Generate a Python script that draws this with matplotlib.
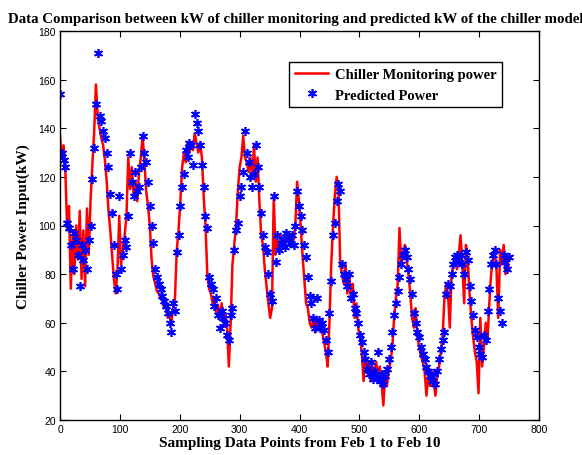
import numpy as np
import matplotlib
matplotlib.use("Agg")
import matplotlib.pyplot as plt

# Chiller monitoring power (kW), one value every 3 sampling points
monitoring_kw = [
    137, 128, 133, 122, 98, 108, 74, 96, 80, 100,
    86, 106, 78, 98, 75, 107, 88, 110, 125, 138,
    158, 145, 140, 136, 133, 127, 118, 106, 98, 88,
    78, 72, 82, 104, 84, 90, 96, 104, 128, 115,
    124, 112, 118, 110, 122, 128, 137, 126, 114, 108,
    100, 86, 79, 76, 73, 72, 70, 69, 66, 67,
    62, 63, 60, 66, 70, 90, 98, 110, 124, 130,
    126, 134, 130, 133, 131, 138, 134, 130, 134, 128,
    112, 100, 80, 74, 72, 68, 70, 64, 67, 62,
    68, 60, 64, 58, 42, 60, 84, 92, 100, 114,
    124, 128, 137, 128, 126, 122, 128, 120, 133, 118,
    128, 110, 96, 92, 82, 75, 68, 62, 66, 112,
    88, 94, 90, 96, 92, 95, 93, 97, 92, 96,
    94, 100, 118, 110, 100, 88, 78, 68, 66, 60,
    58, 62, 56, 62, 58, 60, 56, 52, 48, 42,
    60, 84, 100, 112, 120, 116, 84, 80, 76, 84,
    72, 80, 70, 76, 62, 68, 58, 54, 48, 36,
    46, 40, 44, 36, 42, 38, 44, 38, 42, 36,
    26, 38, 34, 40, 44, 50, 62, 70, 76, 99,
    84, 88, 92, 86, 80, 72, 62, 58, 66, 54,
    50, 46, 44, 40, 30, 38, 34, 40, 36, 30,
    38, 42, 48, 54, 70, 76, 72, 58, 80, 84,
    86, 82, 88, 96, 84, 68, 92, 86, 72, 62,
    54, 48, 44, 31, 62, 42, 50, 60, 52, 68,
    80, 86, 90, 82, 62, 90, 84, 92, 80, 86,
    82,
]

# Predicted power of the chiller model (kW), same sampling points
predicted_kw = [
    154, 130, 127, 124, 101, 99, 92, 82, 97, 94,
    88, 75, 92, 86, 90, 82, 94, 100, 119, 132,
    150, 171, 145, 143, 139, 136, 130, 124, 113, 105,
    92, 80, 74, 112, 82, 88, 94, 91, 104, 130,
    118, 112, 122, 114, 116, 124, 137, 130, 126, 118,
    108, 100, 93, 82, 79, 76, 74, 71, 69, 67,
    64, 60, 56, 68, 65, 89, 96, 108, 116, 121,
    131, 128, 134, 133, 125, 146, 142, 139, 133, 125,
    116, 104, 99, 79, 76, 74, 67, 70, 63, 58,
    65, 62, 60, 55, 53, 63, 66, 90, 98, 101,
    112, 116, 122, 139, 130, 126, 120, 116, 121, 133,
    124, 116, 105, 96, 91, 89, 80, 72, 69, 112,
    85, 96, 90, 93, 94, 91, 97, 95, 93, 96,
    92, 100, 114, 108, 104, 98, 92, 87, 79, 71,
    68, 62, 58, 70, 61, 58, 60, 57, 53, 48,
    64, 77, 96, 101, 110, 117, 114, 84, 80, 78,
    75, 80, 70, 72, 66, 64, 60, 55, 52, 48,
    45, 41, 39, 44, 37, 40, 38, 48, 36, 39,
    35, 38, 41, 45, 50, 56, 63, 68, 73, 79,
    84, 88, 90, 87, 82, 78, 72, 64, 60, 56,
    54, 50, 47, 45, 42, 40, 38, 36, 39, 35,
    40, 45, 49, 53, 56, 72, 76, 75, 80, 84,
    87, 88, 85, 88, 84, 80, 89, 86, 75, 69,
    63, 57, 54, 50, 47, 46, 55, 53, 65, 74,
    84, 88, 90, 84, 70, 65, 60, 88, 85, 82,
    87,
]

sample_step = 3
x_ticks = [0, 100, 200, 300, 400, 500, 600, 700, 800]
y_ticks = [20, 40, 60, 80, 100, 120, 140, 160, 180]

x = np.arange(len(monitoring_kw)) * sample_step

serif_bold = {"family": "Liberation Serif", "weight": "bold"}

fig = plt.figure(figsize=(5.82, 4.56), dpi=100)
ax = fig.add_axes([60 / 582, 1 - 421 / 456, 479 / 582, 389 / 456])

ax.plot(x, monitoring_kw, color="red", lw=1.8, label="Chiller Monitoring power")
ax.plot(x, predicted_kw, ls="none", marker=(6, 2, 0), ms=6.5, mec="blue", mew=1.2,
        color="blue", label="Predicted Power")

ax.set_xlim(0, 800)
ax.set_ylim(20, 180)
ax.set_xticks(x_ticks)
ax.set_yticks(y_ticks)
ax.tick_params(direction="in", length=4, width=0.8, top=True, right=True,
               labelsize=7.5, pad=3)
for lab in ax.get_xticklabels() + ax.get_yticklabels():
    lab.set_family("Liberation Sans")
for sp in ax.spines.values():
    sp.set_linewidth(1.0)

ax.set_xlabel("Sampling Data Points from Feb 1 to Feb 10", fontsize=11, labelpad=1, **serif_bold)
ax.set_ylabel("Chiller Power Input(kW)", fontsize=11, labelpad=6, **serif_bold)

fig.text(8 / 582, 1 - 23 / 456, "Data Comparison between kW of chiller monitoring and predicted kW of the chiller model",
         ha="left", va="baseline", fontsize=10.7, **serif_bold)

leg = ax.legend(loc="upper left", bbox_to_anchor=((289 - 60) / 479, (421 - 63) / 389),
                borderaxespad=0,
                prop={"family": "Liberation Serif", "weight": "bold", "size": 10.5},
                frameon=True, fancybox=False, edgecolor="black", framealpha=1,
                handlelength=2.3, handletextpad=0.45, borderpad=0.4, labelspacing=0.5)
leg.get_frame().set_linewidth(1.0)

plt.savefig("out.png", dpi=100)
plt.close()
